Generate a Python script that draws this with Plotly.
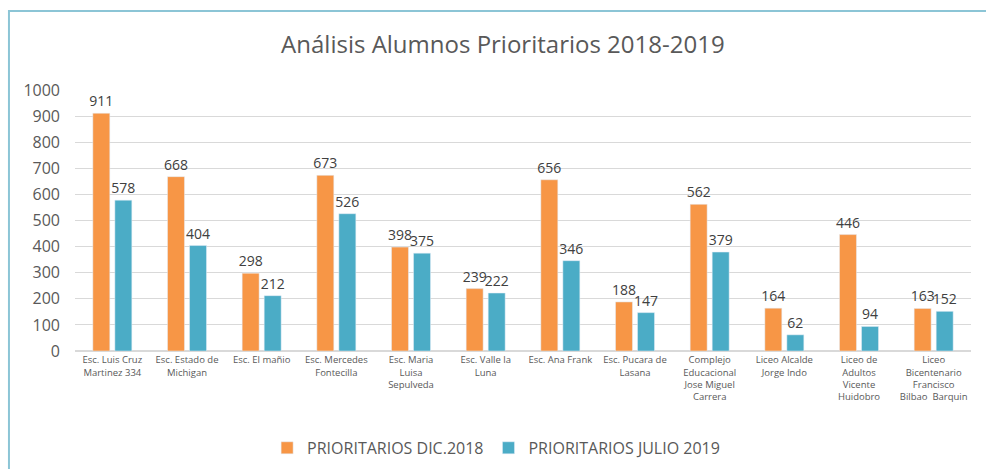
import plotly.graph_objects as go

escuelas = [
    "Esc. Luis Cruz<br>Martinez 334",
    "Esc. Estado de<br>Michigan",
    "Esc. El mañio",
    "Esc. Mercedes<br>Fontecilla",
    "Esc. Maria<br>Luisa<br>Sepulveda",
    "Esc. Valle la<br>Luna",
    "Esc. Ana Frank",
    "Esc. Pucara de<br>Lasana",
    "Complejo<br>Educacional<br>Jose Miguel<br>Carrera",
    "Liceo Alcalde<br>Jorge Indo",
    "Liceo de<br>Adultos<br>Vicente<br>Huidobro",
    "Liceo<br>Bicentenario<br>Francisco<br>Bilbao  Barquin",
]
dic_2018 = [911, 668, 298, 673, 398, 239, 656, 188, 562, 164, 446, 163]
julio_2019 = [578, 404, 212, 526, 375, 222, 346, 147, 379, 62, 94, 152]

FONT = "Open Sans"
TXT = "#404040"

fig = go.Figure()
fig.add_trace(go.Bar(
    x=escuelas, y=dic_2018, name="PRIORITARIOS DIC.2018",
    marker_color="#F79646", text=dic_2018, textposition="outside",
    constraintext="none", cliponaxis=False,
    textfont=dict(family=FONT, size=14, color=TXT),
))
fig.add_trace(go.Bar(
    x=escuelas, y=julio_2019, name="PRIORITARIOS JULIO 2019",
    marker_color="#4BACC6", text=julio_2019, textposition="outside",
    constraintext="none", cliponaxis=False,
    textfont=dict(family=FONT, size=14, color=TXT),
))

fig.update_layout(
    width=986, height=469,
    margin=dict(l=75, r=15, t=90, b=118, autoexpand=False),
    paper_bgcolor="white", plot_bgcolor="white",
    barmode="group", bargap=0.41, bargroupgap=0.23,
    title=dict(text="Análisis Alumnos Prioritarios 2018-2019", x=0.51, xanchor="center",
               y=0.905, yanchor="middle",
               font=dict(family=FONT, size=24, color="#595959")),
    legend=dict(orientation="h", x=0.47, xanchor="center", y=0.045, yanchor="middle",
                yref="container",
                font=dict(family=FONT, size=16, color="#595959"), traceorder="normal"),
    font=dict(family=FONT, color="#595959"),
    shapes=[dict(type="rect", xref="paper", yref="paper",
                 x0=-0.0737, x1=1.05, y0=-0.6, y1=1.303,
                 line=dict(color="#8CC5D6", width=2), fillcolor="rgba(0,0,0,0)", layer="below")],
)
fig.update_yaxes(range=[0, 1000], dtick=100, showgrid=True, gridcolor="#D9D9D9",
                 zeroline=True, zerolinecolor="#D9D9D9", ticks="", ticklabelstandoff=14,
                 tickfont=dict(family=FONT, size=16, color="#595959"))
fig.update_xaxes(showline=True, linecolor="#D9D9D9", ticks="",
                 tickangle=0, tickfont=dict(family=FONT, size=9.5, color="#595959"))

# drop the default page margin so the figure sits at the window's corner
fig.write_html("out.html", config={"displayModeBar": False},
               post_script="document.body.style.margin='0';")
